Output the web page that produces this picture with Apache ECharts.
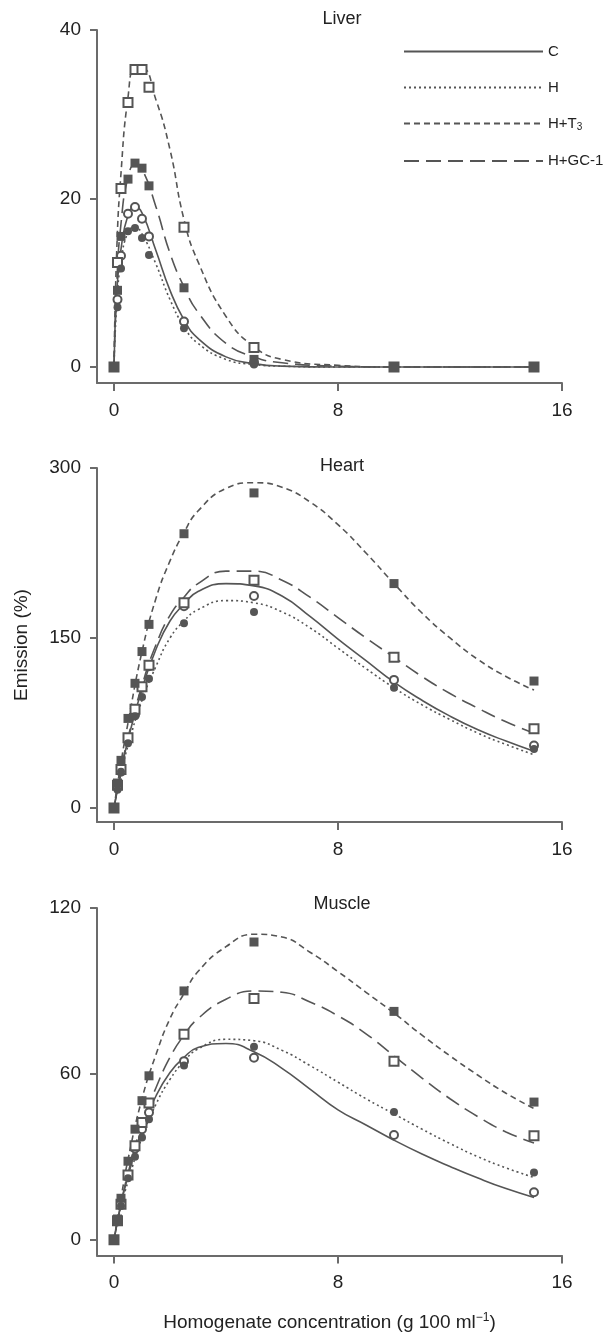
<!DOCTYPE html>
<html>
<head>
<meta charset="utf-8">
<script src="https://cdn.jsdelivr.net/npm/echarts@6/dist/echarts.min.js"></script>
<style>
  html, body { margin: 0; padding: 0; background: #fff; }
  #chart { width: 604px; height: 1333px; }
</style>
</head>
<body>
<div id="chart"></div>
<script>
// measured points (same concentrations in every panel)
var ptX = [0, 0.125, 0.25, 0.5, 0.75, 1, 1.25, 2.5, 5, 10, 15];

var liverC  = [0, 8.0, 13.2, 18.2, 19.0, 17.6, 15.5, 5.4, 0.5, 0, 0];
var liverH  = [0, 7.1, 11.7, 16.1, 16.5, 15.3, 13.3, 4.6, 0.3, 0, 0];
var liverT3 = [0, 12.4, 21.2, 31.4, 35.3, 35.3, 33.2, 16.6, 2.3, 0, 0];
var liverGC = [0, 9.1, 15.5, 22.3, 24.2, 23.6, 21.5, 9.4, 0.9, 0, 0];

var heartC  = [0, 18, 32, 60, 82, 106, 125, 178, 187, 113, 55];
var heartH  = [0, 16, 32, 57, 81, 98, 114, 163, 173, 106, 52];
var heartT3 = [0, 22, 42, 79, 110, 138, 162, 242, 278, 198, 112];
var heartGC = [0, 20, 34, 62, 87, 107, 126, 181, 201, 133, 70];

var muscleC  = [0, 7, 13, 23, 33, 40, 46, 64.6, 65.8, 37.9, 17.2];
var muscleH  = [0, 6.3, 12.2, 22.2, 30, 37, 43.6, 63, 69.8, 46.2, 24.3];
var muscleT3 = [0, 7.5, 15, 28.4, 40, 50.3, 59.3, 90, 107.7, 82.6, 49.8];
var muscleGC = [0, 6.9, 12.8, 23.4, 34, 42.4, 49.5, 74.3, 87.3, 64.6, 37.6];

// fitted curves
var liverFitX  = [0, 0.1, 0.25, 0.5, 0.75, 1, 1.5, 2, 2.5, 3, 4, 5, 6, 8, 10, 12, 15];
var liverFitC  = [0, 9, 14, 18, 19, 18.3, 13.8, 9.1, 5.6, 3.4, 1.2, 0.4, 0.1, 0, 0, 0, 0];
var liverFitH  = [0, 7.5, 12.5, 16, 16.6, 15.8, 12.2, 8, 4.8, 2.8, 0.9, 0.3, 0.1, 0, 0, 0, 0];
var liverFitT3 = [0, 14, 23, 32, 35.5, 35.5, 31.7, 25.8, 17.5, 12.5, 6, 2.4, 0.9, 0.2, 0, 0, 0];
var liverFitGC = [0, 10, 17, 22.5, 24, 23.5, 19, 13.5, 9.5, 6.5, 2.8, 1.2, 0.5, 0.1, 0, 0, 0];

var fitX = [0, 0.25, 0.5, 1, 1.5, 2, 2.5, 3, 4, 5, 6, 7, 8, 9, 10, 11, 12, 13, 14, 15];
var heartFitC  = [0, 32, 60, 105, 140, 165, 180, 191, 198, 196, 187, 169, 149, 130, 111, 95, 81, 69, 59, 50];
var heartFitH  = [0, 30, 55, 95, 125, 150, 165, 175, 183, 181, 173, 159, 141, 123, 106, 91, 78, 66, 56, 47];
var heartFitT3 = [0, 40, 75, 138, 185, 218, 243, 262, 282, 287, 283, 270, 250, 225, 198, 172, 150, 131, 116, 104];
var heartFitGC = [0, 33, 62, 108, 144, 170, 186, 198, 209, 209, 201, 186, 168, 150, 133, 116, 101, 88, 76, 66];

var muscleFitC  = [0, 13, 23, 40, 52, 60.5, 66, 69.5, 71, 68, 62, 54.5, 47, 41.5, 36, 31, 26.5, 22.3, 18.5, 15.3];
var muscleFitH  = [0, 12, 21, 37, 49, 58, 64.5, 69, 72.5, 72, 68.5, 63, 57, 51, 45.5, 40, 34.8, 30, 26, 22.5];
var muscleFitT3 = [0, 15, 29, 51, 67, 80, 89, 97, 106, 110.5, 109.5, 104, 97, 89.5, 82, 74, 66.5, 59.5, 53, 47.5];
var muscleFitGC = [0, 13, 24, 42, 55, 66, 74, 80, 87, 90, 89.5, 86, 81, 74.5, 66.5, 58.5, 51, 44.5, 39, 35];

var names = ['C', 'H', 'H+T3', 'H+GC-1'];
var panelTitles = ['Liver', 'Heart', 'Muscle'];
var yMax = [40, 300, 120];
var yStep = [20, 150, 60];
var xTicks = [0, 8, 16];

var gray = '#555';
var axisGray = '#6b6b6b';
var font = 'Liberation Sans, Arial, sans-serif';
var dashes = ['solid', [2, 3], [6, 4], [15, 7]];

var panels = [
  { pts: [liverC, liverH, liverT3, liverGC], fitX: liverFitX,
    fit: [liverFitC, liverFitH, liverFitT3, liverFitGC],
    sym: ['emptyCircle', 'circle', 'emptyRect', 'rect'], top: 30, h: 353, yMin: -1.9 },
  { pts: [heartC, heartH, heartT3, heartGC], fitX: fitX,
    fit: [heartFitC, heartFitH, heartFitT3, heartFitGC],
    sym: ['emptyCircle', 'circle', 'rect', 'emptyRect'], top: 468, h: 354, yMin: -12.4 },
  { pts: [muscleC, muscleH, muscleT3, muscleGC], fitX: fitX,
    fit: [muscleFitC, muscleFitH, muscleFitT3, muscleFitGC],
    sym: ['emptyCircle', 'circle', 'rect', 'emptyRect'], top: 908, h: 354, yMin: -5.7 }
];

function zip(xs, ys) {
  return xs.map(function (x, i) { return [x, ys[i]]; });
}

var grid = [], xAxis = [], yAxis = [], series = [], title = [];

panels.forEach(function (p, k) {
  grid.push({ left: 97, top: p.top, width: 465, height: p.h });
  title.push({
    text: panelTitles[k], left: 337, top: [5, 452, 890][k], textAlign: 'center',
    textStyle: { fontFamily: font, fontSize: 18, fontWeight: 'normal', color: '#222' }
  });
  xAxis.push({
    type: 'value', gridIndex: k, min: -0.607, max: 16,
    splitLine: { show: false },
    axisLine: { onZero: false, lineStyle: { color: axisGray, width: 2 } },
    axisTick: { customValues: xTicks, length: 8, lineStyle: { color: axisGray, width: 2 } },
    axisLabel: { customValues: xTicks, margin: 18, fontFamily: font, fontSize: 19, color: '#222' },
    name: k === 2 ? 'Homogenate concentration (g 100 ml{sup|\u22121})' : '',
    nameLocation: 'middle', nameGap: 56,
    nameTextStyle: {
      fontFamily: font, fontSize: 19, color: '#222',
      rich: { sup: { fontFamily: font, fontSize: 12, color: '#222', verticalAlign: 'top', padding: [0, 0, 10, 0] } }
    }
  });
  yAxis.push({
    type: 'value', gridIndex: k, min: p.yMin, max: yMax[k],
    splitLine: { show: false },
    axisLine: { onZero: false, lineStyle: { color: axisGray, width: 2 } },
    axisTick: { customValues: [0, yStep[k], yMax[k]], length: 7, lineStyle: { color: axisGray, width: 2 } },
    axisLabel: { customValues: [0, yStep[k], yMax[k]], margin: 16, fontFamily: font, fontSize: 19, color: '#222' },
    name: k === 1 ? 'Emission (%)' : '',
    nameLocation: 'middle', nameGap: 66,
    nameTextStyle: { fontFamily: font, fontSize: 19, color: '#222' }
  });

  names.forEach(function (nm, i) {
    series.push({
      name: nm, type: 'line', xAxisIndex: k, yAxisIndex: k,
      data: zip(p.fitX, p.fit[i]),
      smooth: 0.5, symbol: 'none', silent: true,
      lineStyle: { color: gray, width: 1.6, type: dashes[i] },
      itemStyle: { color: gray },
      z: 2
    });
    var round = p.sym[i].indexOf('ircle') > 0;
    var empty = p.sym[i].indexOf('empty') === 0;
    series.push({
      name: nm + ' data', type: 'scatter', xAxisIndex: k, yAxisIndex: k,
      data: zip(ptX, p.pts[i]),
      symbol: p.sym[i], symbolSize: round ? 8 : 9,
      itemStyle: { color: gray, borderColor: gray, borderWidth: empty ? 1.5 : 0, opacity: 1 },
      silent: true, z: empty ? 3 : (round ? 4 : 5)
    });
  });
});

var chart = echarts.init(document.getElementById('chart'), null, { renderer: 'canvas' });
chart.setOption({
  animation: false,
  backgroundColor: '#fff',
  title: title,
  legend: {
    data: names, orient: 'vertical', left: 398, top: 39,
    itemWidth: 139, itemHeight: 14, itemGap: 21, selectedMode: false,
    itemStyle: { color: 'rgba(0,0,0,0)', borderColor: 'rgba(0,0,0,0)', borderWidth: 0 },
    formatter: function (n) { return n === 'H+T3' ? 'H+T{sub|3}' : n; },
    textStyle: {
      fontFamily: font, fontSize: 15, color: '#222',
      rich: { sub: { fontFamily: font, fontSize: 10, color: '#222', verticalAlign: 'bottom', padding: [8, 0, 0, 0] } }
    }
  },
  grid: grid,
  xAxis: xAxis,
  yAxis: yAxis,
  series: series
});
</script>
</body>
</html>
